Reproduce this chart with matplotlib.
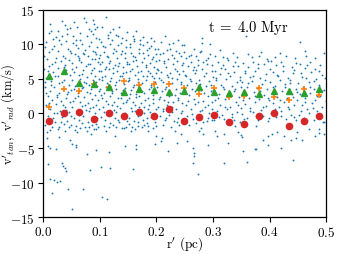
import numpy as np
import matplotlib
matplotlib.use("Agg")
import matplotlib.pyplot as plt
from matplotlib.ticker import FuncFormatter

plt.rcParams['mathtext.fontset'] = 'cm'
plt.rcParams['font.family'] = ['DejaVu Serif']

# binned radii (pc)
r_bins = [0.011, 0.037, 0.064, 0.090, 0.117, 0.143, 0.170, 0.196, 0.223, 0.249,
          0.276, 0.302, 0.329, 0.355, 0.382, 0.408, 0.435, 0.461, 0.488]
v_red = [-1.15, 0.05, 0.25, -0.75, 0.0, -0.3, 0.2, -0.3, 0.6, -1.1,
         -0.55, -0.15, -1.3, -1.45, -0.3, 0.0, -1.85, -1.1, -0.3]
v_green = [5.45, 6.1, 4.45, 4.3, 3.9, 3.15, 3.5, 3.4, 3.1, 3.3,
           3.8, 3.15, 2.9, 3.1, 2.85, 3.3, 3.3, 2.9, 3.6]
v_orange = [1.0, 3.6, 3.3, 4.25, 3.85, 4.75, 4.15, 4.3, 4.25, 3.65,
            2.8, 3.65, 2.45, 2.6, 3.75, 2.45, 1.95, 3.55, 2.7]

# individual stars (r', v)
band0 = [(0.004,9.6),(0.011,8.9),(0.019,9.8),(0.027,9.1),(0.036,8.4),(0.044,9.4),(0.049,8.7),
(0.007,7.9),(0.015,7.2),(0.023,8.1),(0.031,7.6),(0.039,7.0),(0.046,7.8),
(0.002,6.4),(0.010,6.9),(0.018,6.0),(0.026,6.6),(0.033,5.8),(0.041,6.3),(0.048,5.6),
(0.006,5.1),(0.014,4.7),(0.021,5.4),(0.029,4.4),(0.037,4.9),(0.045,4.2),
(0.003,3.8),(0.012,3.3),(0.020,3.9),(0.028,3.0),(0.035,3.6),(0.043,2.8),(0.050,3.4),
(0.008,2.5),(0.016,2.0),(0.024,2.7),(0.032,1.8),(0.040,2.3),(0.047,1.6),
(0.005,1.2),(0.013,0.6),(0.022,1.4),(0.030,0.4),(0.038,1.0),(0.046,0.2),
(0.009,-0.3),(0.017,-0.7),(0.025,0.1),(0.034,-0.5),(0.042,-1.1),(0.049,-0.4),
(0.003,-1.6),(0.021,-1.3),(0.029,-1.9),(0.037,-1.5),(0.045,-2.0),
(0.013,-2.4),(0.026,-2.2),(0.039,-2.6),
(0.010,11.6),(0.026,12.0),(0.034,13.4),(0.038,12.8),(0.043,12.3),(0.047,12.4),(0.034,11.3),
(0.006,10.4),(0.018,10.8),(0.040,10.5),(0.022,11.1),(0.014,11.9),
(0.007,-2.7),(0.028,-3.4),(0.007,-3.5),(0.047,-3.8),(0.009,-4.7),(0.013,-5.0),(0.022,-5.1),
(0.008,-7.3),(0.033,-7.2),(0.035,-7.6),(0.040,-8.4),(0.038,-7.9),(0.012,-9.5),(0.020,-9.7),
(0.024,-9.9),(0.030,-9.8),(0.044,-10.9),(0.015,-11.5)]
band1 = [(0.053,10.2),(0.061,9.5),(0.068,10.0),(0.074,9.2),(0.082,9.8),(0.089,9.0),(0.096,9.7),
(0.056,8.6),(0.064,8.1),(0.071,8.8),(0.079,8.3),(0.086,7.9),(0.093,8.6),(0.099,8.0),
(0.052,7.3),(0.059,6.8),(0.067,7.5),(0.075,6.9),(0.083,7.2),(0.090,6.6),(0.097,7.4),
(0.055,6.0),(0.063,5.6),(0.070,6.3),(0.078,5.3),(0.085,5.9),(0.092,5.4),(0.099,6.1),
(0.051,4.8),(0.060,4.3),(0.066,5.0),(0.073,4.6),(0.081,4.1),(0.088,4.8),(0.095,4.0),
(0.054,3.5),(0.062,2.9),(0.069,3.7),(0.077,3.1),(0.084,3.6),(0.091,2.7),(0.098,3.3),
(0.057,2.2),(0.065,1.7),(0.072,2.4),(0.080,1.5),(0.087,2.1),(0.094,1.3),
(0.052,0.9),(0.060,0.3),(0.068,1.1),(0.076,0.5),(0.083,0.8),(0.091,0.0),(0.099,0.6),
(0.055,-0.6),(0.063,-1.0),(0.071,-0.3),(0.079,-1.3),(0.086,-0.8),(0.094,-1.5),
(0.058,-1.8),(0.066,-2.1),(0.074,-1.9),(0.082,-2.0),(0.090,-2.3),(0.097,-1.9),
(0.066,11.7),(0.072,13.9),(0.077,11.2),(0.088,11.5),(0.090,13.0),(0.094,11.0),(0.053,11.2),
(0.060,12.6),(0.082,12.2),(0.098,10.8),(0.058,10.7),(0.076,13.2),(0.088,13.5),(0.092,12.3),
(0.052,-4.4),(0.059,-4.9),(0.059,-4.6),(0.077,-5.8),(0.094,-5.3),(0.083,-8.2),(0.070,-10.9),
(0.051,-13.9),(0.060,-2.7),(0.085,-3.0)]
band2 = [(0.103,10.4),(0.110,9.6),(0.118,10.1),(0.125,9.3),(0.132,9.9),(0.140,9.1),(0.147,9.7),
(0.101,8.5),(0.108,8.9),(0.115,8.2),(0.123,8.7),(0.130,8.0),(0.137,8.6),(0.145,8.1),
(0.104,7.4),(0.112,6.8),(0.119,7.6),(0.127,7.0),(0.134,7.3),(0.142,6.7),(0.149,7.5),
(0.102,6.1),(0.109,5.5),(0.117,6.4),(0.124,5.8),(0.131,6.2),(0.139,5.4),(0.146,6.0),
(0.105,4.9),(0.113,4.4),(0.120,5.1),(0.128,4.5),(0.135,4.9),(0.143,4.3),(0.150,4.7),
(0.101,3.6),(0.107,3.0),(0.116,3.8),(0.122,3.2),(0.129,3.5),(0.138,2.9),(0.144,3.7),
(0.104,2.3),(0.111,1.8),(0.118,2.5),(0.126,1.6),(0.133,2.2),(0.141,1.5),(0.148,2.0),
(0.106,0.9),(0.114,0.4),(0.121,1.2),(0.129,0.2),(0.136,0.8),(0.144,0.1),
(0.102,-0.5),(0.110,-1.0),(0.119,-0.2),(0.127,-0.7),(0.134,-1.3),(0.142,-0.4),(0.149,-1.1),
(0.108,-1.8),(0.116,-2.0),(0.124,-1.7),(0.139,-2.1),(0.146,-1.9),
(0.111,14.0),(0.128,11.4),(0.132,11.2),(0.146,10.6),(0.118,11.8),(0.104,12.5),(0.140,11.0),
(0.115,10.9),(0.123,12.2),
(0.104,-12.1),(0.113,-12.4),(0.102,-7.8),(0.118,-7.9),(0.117,-5.6),(0.127,-3.2),(0.145,-4.7),
(0.143,-2.1),(0.112,-2.6)]
band3 = [(0.153,10.0),(0.161,10.5),(0.169,9.4),(0.176,9.9),(0.184,9.2),(0.191,9.8),(0.198,9.3),
(0.155,8.7),(0.163,8.2),(0.170,8.8),(0.178,8.0),(0.186,8.5),(0.193,7.9),(0.200,8.6),
(0.151,7.2),(0.159,7.6),(0.166,6.9),(0.174,7.4),(0.181,6.7),(0.189,7.3),(0.196,6.8),
(0.154,6.2),(0.162,5.6),(0.168,6.0),(0.177,5.4),(0.185,6.1),(0.192,5.5),(0.199,5.9),
(0.152,4.8),(0.160,4.2),(0.167,5.0),(0.175,4.4),(0.182,4.9),(0.190,4.1),(0.197,4.6),
(0.156,3.4),(0.164,2.8),(0.171,3.6),(0.179,3.0),(0.187,3.5),(0.194,2.7),
(0.151,2.2),(0.158,1.7),(0.165,2.4),(0.173,1.5),(0.180,2.0),(0.188,1.3),(0.195,2.1),
(0.155,0.8),(0.163,0.3),(0.170,1.0),(0.178,0.1),(0.185,0.6),(0.193,-0.1),(0.200,0.7),
(0.152,-0.6),(0.160,-1.1),(0.168,-0.4),(0.176,-0.9),(0.183,-1.4),(0.191,-0.5),(0.198,-1.2),
(0.157,-1.9),(0.167,-1.85),(0.174,-2.0),(0.186,-1.8),(0.194,-2.1),
(0.165,12.0),(0.161,10.8),(0.172,10.7),(0.183,10.4),(0.158,11.3),(0.190,10.9),
(0.158,-8.1),(0.165,-4.5),(0.165,-5.1),(0.197,-4.35),(0.156,-2.6),(0.185,-2.5)]
band4 = [(0.203,9.4),(0.211,8.8),(0.219,9.2),(0.227,8.5),(0.235,9.0),(0.243,8.3),(0.249,8.9),
(0.205,7.8),(0.213,7.3),(0.221,7.9),(0.229,7.1),(0.237,7.6),(0.245,7.0),
(0.201,6.5),(0.209,6.0),(0.217,6.7),(0.225,5.9),(0.233,6.4),(0.241,5.7),(0.248,6.2),
(0.204,5.1),(0.212,4.6),(0.220,5.3),(0.228,4.4),(0.236,5.0),(0.244,4.3),
(0.202,3.8),(0.210,3.2),(0.218,3.9),(0.226,3.0),(0.234,3.6),(0.242,2.9),(0.250,3.4),
(0.206,2.4),(0.214,1.9),(0.222,2.6),(0.230,1.7),(0.238,2.2),(0.246,1.5),
(0.203,1.0),(0.211,0.4),(0.219,1.2),(0.227,0.2),(0.235,0.7),(0.243,0.0),
(0.207,-0.4),(0.215,-0.9),(0.223,-0.2),(0.231,-1.1),(0.239,-0.6),(0.247,-1.3),
(0.212,-1.7),(0.226,-1.9),(0.240,-1.6),
(0.208,10.3),(0.222,10.0),(0.238,10.6),(0.215,11.2),(0.245,9.9),
(0.200,-3.3),(0.210,-3.6),(0.208,-4.0),(0.220,-5.4),(0.237,-4.3),(0.243,-3.0),(0.233,-2.5)]
band5 = [(0.253,8.0),(0.262,7.5),(0.270,8.3),(0.287,7.8),(0.295,8.6),
(0.256,6.9),(0.264,6.3),(0.273,7.0),(0.281,6.5),(0.290,7.2),(0.298,6.1),
(0.251,5.6),(0.259,5.0),(0.268,5.8),(0.276,4.9),(0.284,5.5),(0.293,4.7),(0.300,5.3),
(0.254,4.2),(0.263,3.6),(0.271,4.4),(0.279,3.4),(0.288,4.0),(0.296,3.2),
(0.257,2.7),(0.266,2.1),(0.274,2.9),(0.283,1.8),(0.291,2.5),(0.299,1.6),
(0.252,1.2),(0.261,0.6),(0.269,1.4),(0.277,0.3),(0.286,0.9),(0.294,0.1),
(0.255,-0.3),(0.265,-0.8),(0.273,-0.5),(0.282,-1.2),(0.292,-0.6),(0.299,-1.0),
(0.258,-1.6),(0.279,-2.1),(0.276,-2.6),(0.282,-2.9),
(0.280,10.9),(0.280,10.2),(0.295,10.0),(0.277,8.9),(0.262,8.5),(0.279,9.0),
(0.254,-4.0),(0.264,-5.0),(0.266,-5.7),(0.267,-6.2),(0.264,-7.2),(0.274,-8.7),(0.291,-4.5)]
band6 = [(0.309,7.4),(0.318,7.0),(0.327,7.7),(0.339,7.5),(0.345,6.9),
(0.303,6.2),(0.312,5.7),(0.321,6.4),(0.330,5.5),(0.338,6.0),(0.347,5.3),
(0.306,4.8),(0.315,4.2),(0.324,5.0),(0.333,4.0),(0.342,4.6),(0.350,3.9),
(0.301,3.4),(0.310,2.8),(0.319,3.6),(0.328,2.6),(0.337,3.2),(0.346,2.4),
(0.304,1.9),(0.313,1.3),(0.322,2.1),(0.331,1.0),(0.340,1.7),(0.349,0.8),
(0.307,0.4),(0.316,-0.2),(0.325,0.6),(0.334,-0.5),(0.343,0.2),
(0.302,-1.0),(0.320,-0.8),(0.329,-1.4),(0.338,-0.9),(0.348,-1.2),
(0.304,8.4),(0.318,8.2),(0.325,8.0),(0.313,9.2),(0.335,8.7),
(0.303,-2.6),(0.308,-3.3),(0.319,-2.9),(0.327,-4.3),(0.320,-7.2),(0.344,-2.7),(0.339,-1.85)]
band7 = [(0.353,7.3),(0.362,6.8),(0.371,7.5),(0.380,6.6),(0.390,7.1),(0.398,7.6),
(0.356,5.9),(0.365,5.3),(0.374,6.1),(0.383,5.1),(0.393,5.7),
(0.351,4.5),(0.360,3.9),(0.369,4.7),(0.378,3.7),(0.387,4.3),(0.396,3.5),
(0.354,2.9),(0.363,2.3),(0.372,3.1),(0.381,2.1),(0.391,2.7),(0.399,1.9),
(0.357,1.4),(0.366,0.8),(0.375,1.6),(0.385,0.5),(0.394,1.1),
(0.352,-0.1),(0.361,-0.6),(0.370,0.2),(0.379,-0.9),(0.389,-0.3),(0.397,-1.1),
(0.358,11.3),(0.369,8.2),(0.385,8.9),(0.396,7.9),(0.362,8.6),
(0.350,-3.1),(0.351,-3.4),(0.354,-5.5),(0.360,-7.05),(0.375,-5.2),(0.376,-1.85),(0.388,-3.9),
(0.397,-3.3),(0.397,-4.6),(0.376,-5.1)]
band8 = [(0.403,7.6),(0.412,7.0),(0.421,7.4),(0.430,8.4),(0.439,6.8),(0.447,7.3),
(0.406,6.0),(0.415,5.4),(0.424,6.2),(0.433,5.2),(0.442,5.8),
(0.401,4.6),(0.410,4.0),(0.419,4.8),(0.428,3.8),(0.437,4.4),(0.446,3.6),
(0.404,3.0),(0.413,2.4),(0.422,3.2),(0.431,2.2),(0.440,2.8),(0.449,2.0),
(0.407,1.5),(0.416,0.9),(0.425,1.7),(0.434,0.6),(0.443,1.2),
(0.402,0.0),(0.411,-0.5),(0.420,0.3),(0.429,-0.8),(0.438,-0.2),(0.447,-1.0),
(0.453,10.3),(0.410,8.2),(0.445,8.0),
(0.413,-2.7),(0.426,-3.2),(0.420,-5.0),(0.438,-3.9),(0.447,-3.5),(0.441,-6.8),(0.448,-2.7),(0.405,-3.0)]
band9 = [(0.453,7.2),(0.462,6.6),(0.471,7.4),(0.480,6.4),(0.489,7.0),(0.497,8.8),
(0.456,5.8),(0.465,5.2),(0.474,6.0),(0.483,5.0),(0.492,5.6),
(0.451,4.4),(0.460,3.8),(0.469,4.6),(0.478,3.6),(0.487,4.2),(0.496,3.4),
(0.454,2.8),(0.463,2.2),(0.472,3.0),(0.481,2.0),(0.490,2.6),(0.499,1.8),
(0.457,1.3),(0.466,0.7),(0.475,1.5),(0.484,0.4),(0.493,1.0),
(0.452,-0.2),(0.461,-0.7),(0.470,0.1),(0.479,-1.0),(0.488,-0.4),(0.497,-1.2),
(0.465,8.3),(0.480,8.0),
(0.458,-3.8),(0.470,-2.3),(0.480,-3.3),(0.487,-2.8),(0.488,-2.2),(0.494,-1.3),(0.496,-3.0)]
extra_inner = [(0.016,9.3),(0.031,10.1),(0.058,9.9),(0.085,10.4),(0.047,9.0),(0.073,8.6),(0.002,8.3),
(0.021,7.5),(0.039,8.1),(0.063,7.7),(0.091,7.9),(0.079,7.1),(0.009,6.1),(0.027,5.5),(0.051,6.4),
(0.068,5.7),(0.087,6.3),(0.098,5.0),(0.014,4.1),(0.033,4.6),(0.056,4.0),(0.071,3.9),(0.093,4.5),
(0.006,3.0),(0.024,2.4),(0.044,3.1),(0.061,2.5),(0.083,2.9),(0.097,2.0),(0.011,1.5),(0.036,1.3),
(0.053,1.8),(0.074,1.2),(0.089,0.9),(0.019,0.1),(0.041,0.5),(0.064,-0.2),(0.081,0.3),(0.096,-0.6),
(0.007,-0.9),(0.032,-1.2),(0.049,-1.6),(0.069,-1.4),(0.087,-1.7),(0.015,-2.0),(0.057,-2.4),
(0.078,-2.6),(0.093,-2.2),(0.028,10.7),(0.066,10.6),(0.043,11.5),(0.084,11.9),(0.012,12.9),
(0.055,13.2),(0.096,12.6),(0.037,6.7),(0.076,4.4),(0.004,4.5),(0.062,8.4),(0.092,8.9)]
extra_mid = [(0.106,9.8),(0.121,10.6),(0.137,10.2),(0.153,9.6),(0.171,10.1),(0.188,9.5),(0.113,8.4),
(0.128,9.1),(0.144,8.8),(0.159,8.3),(0.176,8.7),(0.194,8.2),(0.101,7.1),(0.117,7.3),(0.133,6.9),
(0.148,7.2),(0.164,7.8),(0.182,7.0),(0.199,7.6),(0.109,6.4),(0.124,6.6),(0.141,5.9),(0.157,6.5),
(0.173,6.2),(0.189,5.8),(0.104,5.3),(0.119,4.7),(0.136,5.5),(0.151,5.2),(0.167,4.6),(0.184,5.4),
(0.196,5.1),(0.112,3.9),(0.127,4.1),(0.142,3.4),(0.158,3.9),(0.174,3.3),(0.191,3.8),(0.103,2.7),
(0.121,2.9),(0.138,2.3),(0.153,2.8),(0.169,2.5),(0.186,2.2),(0.115,1.4),(0.131,1.1),(0.147,1.6),
(0.162,1.2),(0.178,0.9),(0.195,1.5),(0.108,0.2),(0.125,0.5),(0.141,-0.3),(0.157,0.3),(0.172,-0.2),
(0.189,0.2),(0.118,-1.4),(0.133,-0.9),(0.151,-1.5),(0.168,-1.2),(0.183,-0.7),(0.199,-1.8),
(0.129,-1.9),(0.162,-2.3),(0.179,-1.7),(0.114,11.4),(0.149,11.8),(0.177,11.1),(0.135,12.6),
(0.196,10.5)]
extra_outer = [(0.206,8.6),(0.224,9.4),(0.241,8.8),(0.258,8.3),(0.274,7.7),(0.291,8.1),(0.214,7.6),
(0.231,8.0),(0.248,7.3),(0.266,6.8),(0.283,7.4),(0.299,7.0),(0.203,6.3),(0.219,5.6),(0.237,6.1),
(0.253,5.4),(0.271,6.3),(0.288,5.8),(0.209,4.8),(0.227,5.1),(0.244,4.6),(0.261,4.7),(0.278,4.3),
(0.296,4.1),(0.216,3.5),(0.233,2.7),(0.251,3.1),(0.268,3.3),(0.285,2.9),(0.204,2.1),(0.221,1.6),
(0.239,1.9),(0.256,1.8),(0.273,1.6),(0.292,1.2),(0.211,0.7),(0.228,0.9),(0.246,0.4),(0.263,-0.1),
(0.281,0.5),(0.298,0.6),(0.218,-0.6),(0.236,-1.3),(0.253,-1.0),(0.271,-1.4),(0.289,-1.1),
(0.229,10.2),(0.266,9.3),(0.249,9.9),
(0.314,6.6),(0.336,6.9),(0.357,6.2),(0.379,7.1),(0.401,6.5),(0.423,6.9),(0.444,6.3),(0.466,7.0),
(0.487,6.1),(0.305,5.1),(0.327,5.9),(0.348,4.9),(0.371,5.5),(0.392,4.8),(0.414,5.6),(0.436,4.9),
(0.458,5.3),(0.479,4.7),(0.498,5.1),(0.318,3.9),(0.339,3.6),(0.362,4.4),(0.384,3.2),(0.406,3.8),
(0.427,4.3),(0.449,3.1),(0.471,3.9),(0.492,3.2),(0.309,2.2),(0.331,2.9),(0.353,2.0),(0.375,2.6),
(0.397,2.2),(0.418,1.9),(0.441,2.4),(0.462,1.6),(0.484,2.5),(0.321,0.9),(0.344,1.3),(0.366,0.3),
(0.388,0.9),(0.409,0.6),(0.432,1.0),(0.455,0.4),(0.476,0.8),(0.311,-0.5),(0.333,-0.1),(0.355,-0.8),
(0.377,-0.4),(0.399,-0.7),(0.421,-0.3),(0.444,-0.5),(0.467,-0.9),(0.489,-0.7),(0.342,8.2),
(0.381,8.3),(0.419,8.7),(0.463,9.1)]

stars = np.array(band0 + band1 + band2 + band3 + band4 + band5 + band6 + band7 + band8 + band9
                 + extra_inner + extra_mid + extra_outer)

fig = plt.figure(figsize=(3.39, 2.55), dpi=100)
ax = fig.add_axes([0.127, 0.145, 0.835, 0.812])

ax.scatter(stars[:, 0], stars[:, 1], s=1.8, color='#1f77b4', linewidths=0, zorder=1)
ax.plot(r_bins, v_orange, linestyle='none', marker='+', color='#ff7f0e',
        markersize=5, markeredgewidth=1.2, zorder=3)
ax.plot(r_bins, v_green, linestyle='none', marker='^', color='#2ca02c',
        markersize=4.5, zorder=4)
ax.plot(r_bins, v_red, linestyle='none', marker='o', color='#d62728',
        markersize=4.5, zorder=5)

ax.set_xlim(0, 0.5)
ax.set_ylim(-15, 15)
ax.set_xticks([0.0, 0.1, 0.2, 0.3, 0.4, 0.5])
ax.set_yticks([-15, -10, -5, 0, 5, 10, 15])
ax.xaxis.set_major_formatter(FuncFormatter(lambda v, p: r'$%.1f$' % v))
ax.yaxis.set_major_formatter(FuncFormatter(lambda v, p: r'$%d$' % round(v)))
ax.tick_params(labelsize=9.5, length=3.5, width=0.8, pad=2.5)
for s in ax.spines.values():
    s.set_linewidth(0.9)

ax.set_xlabel(r"$\mathrm{r'\ (pc)}$", fontsize=9.5)
ax.set_ylabel(r"$\mathrm{v'}_{tan},\ \mathrm{v'}_{rad}\ \mathrm{(km/s)}$", fontsize=9)
ax.xaxis.set_label_coords(0.5, -0.085)
ax.yaxis.set_label_coords(-0.093, 0.5)
ax.text(0.362, 12.6, r"$\mathrm{t}\;=\;4.0\ \mathrm{Myr}$", fontsize=10.5,
        ha='center', va='center')

fig.savefig('out.png', dpi=100)
